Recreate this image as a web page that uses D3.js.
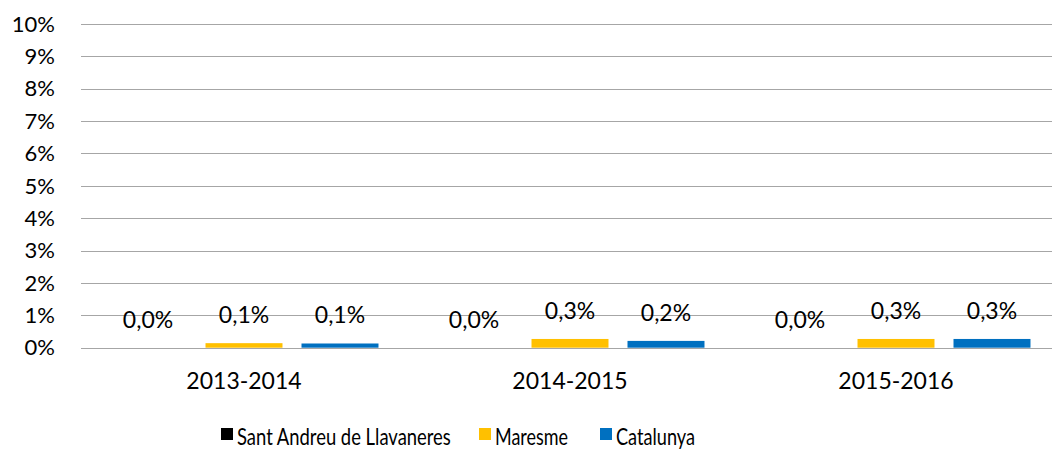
<!DOCTYPE html>
<html>
<head>
<meta charset="utf-8">
<script src="https://cdn.jsdelivr.net/npm/d3@7"></script>
<style>
  html, body { margin: 0; padding: 0; background: #fff; }
  svg { display: block; font-family: Lato, "Open Sans", sans-serif; }
</style>
</head>
<body>
<svg id="chart" width="1052" height="451"></svg>
<script>
// School years shown on the x axis
const categories = ["2013-2014", "2014-2015", "2015-2016"];
// Series names and their colours
const seriesNames = ["Sant Andreu de Llavaneres", "Maresme", "Catalunya"];
const seriesColors = ["#000000", "#FFC000", "#0070C0"];
// Values in percent, one per school year
const santAndreu = [0.0, 0.0, 0.0];
const maresme = [0.14, 0.27, 0.27];
const catalunya = [0.13, 0.21, 0.27];
// y axis ticks (percent)
const yTicks = [0, 1, 2, 3, 4, 5, 6, 7, 8, 9, 10];

const seriesValues = [santAndreu, maresme, catalunya];

const svg = d3.select("#chart");
const plotLeft = 81, plotRight = 1059, plotTop = 24, plotBottom = 347.7;

const y = d3.scaleLinear().domain([0, 10]).range([plotBottom, plotTop]);
const x0 = d3.scaleBand().domain(categories).range([plotLeft, plotRight]).padding(0);
const x1 = d3.scaleBand().domain(seriesNames).range([0, x0.bandwidth()])
  .paddingInner(0.198).paddingOuter(0.297);

// Horizontal gridlines
svg.append("g").selectAll("line").data(yTicks).join("line")
  .attr("x1", plotLeft).attr("x2", plotRight)
  .attr("y1", d => Math.round(y(d)) + 0.5).attr("y2", d => Math.round(y(d)) + 0.5)
  .attr("stroke", "#a6a6a6").attr("stroke-width", 1.2);

// y tick labels
svg.append("g").selectAll("text").data(yTicks).join("text")
  .attr("x", 55).attr("y", d => y(d))
  .attr("dy", "0.35em")
  .attr("text-anchor", "end")
  .attr("font-size", 22).attr("fill", "#000")
  .text(d => d + "%");

const fmt = v => d3.format(".1f")(v).replace(".", ",") + "%";

// Bars and value labels
const groups = svg.append("g").selectAll("g").data(categories).join("g")
  .attr("transform", d => `translate(${x0(d)},0)`);

groups.each(function(cat, ci) {
  const g = d3.select(this);
  const rows = seriesNames.map((s, si) => ({ s, si, v: seriesValues[si][ci] }));
  g.selectAll("rect").data(rows).join("rect")
    .attr("x", d => x1(d.s))
    .attr("width", x1.bandwidth())
    .attr("y", d => y(d.v))
    .attr("height", d => y(0) - y(d.v))
    .attr("fill", d => seriesColors[d.si]);
  g.selectAll("text").data(rows).join("text")
    .attr("x", d => x1(d.s) + x1.bandwidth() / 2)
    .attr("y", d => y(d.v) - 20)
    .attr("text-anchor", "middle")
    .attr("font-size", 23).attr("fill", "#000")
    .text(d => fmt(d.v));
});

// Category labels
svg.append("g").selectAll("text").data(categories).join("text")
  .attr("x", d => x0(d) + x0.bandwidth() / 2)
  .attr("y", 389)
  .attr("text-anchor", "middle")
  .attr("font-size", 23).attr("fill", "#000")
  .text(d => d);

// Legend: swatch position and label width for each entry
const legendX = [221, 479, 600];
const legendTextWidth = [214, 73, 79];
const legend = svg.append("g").selectAll("g").data(seriesNames).join("g")
  .attr("transform", (d, i) => `translate(${legendX[i]},428)`);
legend.append("rect").attr("width", 12).attr("height", 12)
  .attr("fill", (d, i) => seriesColors[i]);
// Labels are narrowed horizontally so each fits its slot
legend.append("text")
  .attr("font-size", 24).attr("fill", "#000")
  .text(d => d)
  .attr("transform", function(d, i) {
    const w = this.getComputedTextLength();
    const sx = w > 0 ? legendTextWidth[i] / w : 1;
    return `translate(16,17) scale(${sx},1)`;
  });
</script>
</body>
</html>
